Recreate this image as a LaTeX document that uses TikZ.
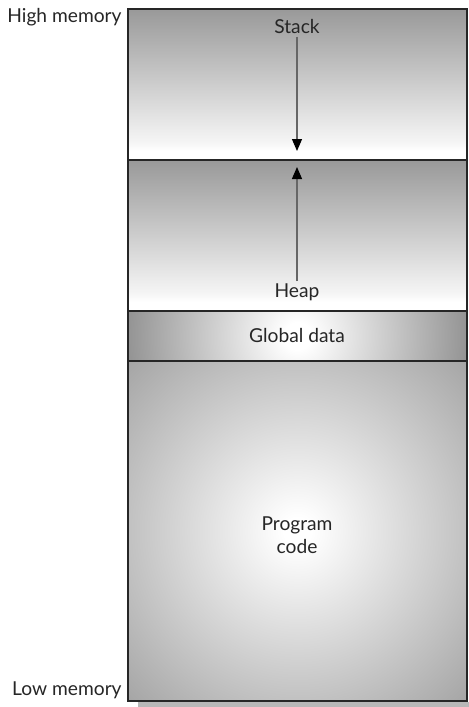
\documentclass[tikz,border=0pt]{standalone}
\usepackage{fontspec}
\setmainfont{Lato}
\usetikzlibrary{arrows.meta}

% shadings (the middle 50bp of each one fills the shaded box)
\pgfdeclareverticalshading{segfade}{100bp}{color(0bp)=(white); color(28bp)=(white);
  color(31bp)=(black!4); color(75bp)=(black!40); color(100bp)=(black!40)}
\pgfdeclareradialshading{glowring}{\pgfpoint{0bp}{0bp}}{color(0bp)=(white);
  color(2bp)=(white); color(25bp)=(black!42); color(50bp)=(black!42)}
\pgfdeclareradialshading{codeglow}{\pgfpoint{0bp}{0bp}}{color(0bp)=(white);
  color(2bp)=(white); color(36bp)=(black!36); color(50bp)=(black!36)}

\begin{document}
\begin{tikzpicture}[
  x=0.5pt,y=-0.5pt,
  font=\fontsize{9.6}{11.5}\selectfont,
  seg/.style={draw=black!85,line width=0.8pt,minimum width=169.5pt,inner sep=0pt},
  glow/.style={path picture={\shade[shading=#1]
      ([shift={(-170,-170)}]path picture bounding box.center) rectangle
      ([shift={(170,170)}]path picture bounding box.center);}},
  lab/.style={align=center,text=black!85,inner sep=1pt},
  side/.style={anchor=east,text=black!85,inner sep=0pt},
  growarrow/.style={draw=black!60,line width=0.6pt,
      -{Triangle[length=6pt,width=5pt,color=black]}},
]
  \useasboundingbox (0,0) rectangle (469,707);
  \fill[black!28] (138,702) rectangle (469,707);
  \node[seg,minimum height=75.5pt,shade,shading=segfade] (stack) at (297.5,84.5) {};
  \node[seg,minimum height=75.5pt,shade,shading=segfade] (heap) at (297.5,235.5) {};
  \node[seg,minimum height=25pt,glow=glowring] (global) at (297.5,336) {};
  \node[seg,minimum height=170pt,glow=codeglow] (code) at (297.5,531) {};
  \node[lab] (stacklab) at (297,27) {Stack};
  \node[lab] (heaplab) at (297,292) {Heap};
  \node[lab] (globallab) at (297,336) {Global data};
  \node[lab] (codelab) at (297,535) {Program\\code};
  \node[side] (high) at (122,17) {High memory};
  \node[side] (low) at (122,690) {Low memory};
  \coordinate (stackend) at (297,151);
  \coordinate (heapend) at (297,167);
  \draw[growarrow] (stacklab) -- (stackend);
  \draw[growarrow] (heaplab) -- (heapend);
\end{tikzpicture}
\end{document}
